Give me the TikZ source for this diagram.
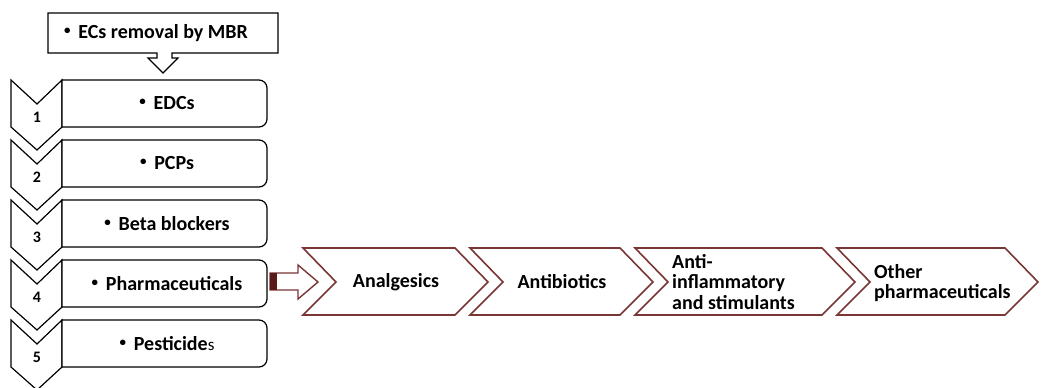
\documentclass[tikz,border=0pt]{standalone}
\usepackage{fontspec}
\setmainfont{Carlito}
\usetikzlibrary{positioning}
\definecolor{maroonline}{HTML}{7A3535}
\definecolor{maroondark}{HTML}{5A1A1A}
\newcommand{\smallbullet}{\raisebox{0.45ex}{\fontsize{13}{13}\selectfont\textbullet}\ \,}

\begin{document}
\begin{tikzpicture}[x=1pt,y=-1pt,
    every node/.style={font=\fontsize{20}{20.5}\selectfont\bfseries},
    stepnum/.style={font=\fontsize{16}{17}\selectfont\bfseries},
    leftline/.style={draw=black,line width=1.2pt,fill=white,line join=miter},
    rightline/.style={draw=maroonline,line width=1.6pt,fill=white}]
    \useasboundingbox (0,0) rectangle (1044,388);

    % top box with down arrow
    \draw [leftline] (48,13) -- (278,13) -- (278,53) -- (172,53) -- (172,58) -- (178,58)
        -- (163,73) -- (148,58) -- (157,58) -- (157,53) -- (48,53) -- cycle;
    \node (topbox) at (156,33) {\smallbullet ECs removal by MBR};

    % numbered steps
    \foreach \i/\txt in {1/EDCs,2/PCPs,3/Beta blockers,4/Pharmaceuticals,5/{Pesticide{\mdseries\fontsize{17}{18}\selectfont s}}} {
        \pgfmathsetmacro{\ytop}{20+60*\i}
        \draw [leftline] (11,\ytop) -- (37,{\ytop+24}) -- (62,\ytop) -- (62,{\ytop+47})
            -- (37,{\ytop+70}) -- (11,{\ytop+47}) -- cycle;
        \draw [leftline] (62,\ytop) -- (259,\ytop) arc [start angle=90, end angle=0, radius=8pt]
            -- (267,{\ytop+39}) arc [start angle=0, end angle=-90, radius=8pt] -- (62,{\ytop+47}) -- cycle;
        \node [stepnum] (num\i) at (37,{\ytop+37}) {\i};
        \node (item\i) at (167,{\ytop+23.5}) {\smallbullet\txt};
    }

    % block arrow to the pharmaceuticals row
    \draw [draw=maroonline, line width=1.4pt, fill=white] (270,273) -- (298,273) -- (298,265) -- (318,282)
        -- (298,299) -- (298,290) -- (270,290) -- cycle;
    \fill [maroondark] (270,273) rectangle (277,290);

    % pharmaceutical classes
    \foreach \xl/\xr in {303/488,470/653,635/855,837/1038} {
        \draw [rightline] (\xl,248) -- ({\xr-33},248) -- (\xr,282) -- ({\xr-33},315)
            -- (\xl,315) -- ({\xl+33},282) -- cycle;
    }
    \node (analg) at (396,282) {Analgesics};
    \node (antib) at (562,282) {Antibiotics};
    \node [align=left, anchor=west, inner sep=0pt] (antiinf) at (672,282) {Anti-\\inflammatory\\and stimulants};
    \node [align=left, anchor=west, inner sep=0pt] (otherph) at (874,283) {Other\\pharmaceuticals};
\end{tikzpicture}
\end{document}
